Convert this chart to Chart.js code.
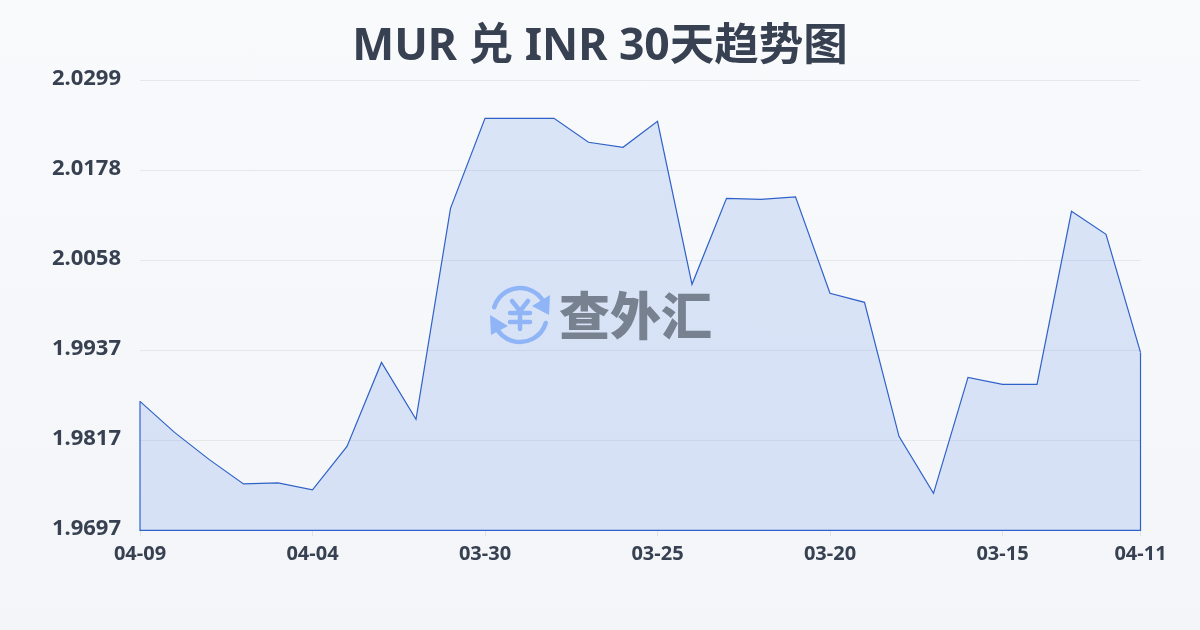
<!DOCTYPE html>
<html><head><meta charset="utf-8">
<style>
html,body{margin:0;padding:0;width:1200px;height:630px;overflow:hidden;background:linear-gradient(180deg,#f9fafc 0%,#f3f5f8 100%);}
canvas{display:block;}
</style>
<script src="https://cdn.jsdelivr.net/npm/chart.js@4/dist/chart.umd.min.js"></script>
</head><body>
<canvas id="c" width="1200" height="630"></canvas>
<script>
const titleText = 'MUR 兑 INR 30天趋势图';
const watermarkText = '查外汇';
const categories = ['04-09','04-08','04-07','04-06','04-05','04-04','04-03','04-02','04-01','03-31','03-30','03-29','03-28','03-27','03-26','03-25','03-24','03-23','03-22','03-21','03-20','03-19','03-18','03-17','03-16','03-15','03-14','03-13','03-12','04-11'];
const rates = [1.98696,1.98281,1.97920,1.97592,1.97605,1.97512,1.98094,1.99217,1.98455,2.01278,2.02482,2.02482,2.02482,2.02161,2.02094,2.02442,2.00261,2.01411,2.01398,2.01432,2.00141,2.00020,1.98228,1.97465,1.99017,1.98923,1.98923,2.01238,2.00930,1.99351];
const yTickLabels = ['2.0299','2.0178','2.0058','1.9937','1.9817','1.9697'];
const xTickIndexes = [0,5,10,15,20,25,29];
const yMin = 1.9697, yMax = 2.0299;
const ink = '#374151';
const lineColor = '#2f62c8';
const fontStack = '"Noto Sans","Noto Sans CJK SC"';

const watermark = {
  id:'watermark',
  afterDatasetsDraw(chart){
    const {ctx} = chart;
    ctx.save();
    const cx=520, cy=315, r=27;
    ctx.strokeStyle='#8fb5f7'; ctx.fillStyle='#8fb5f7';
    ctx.lineWidth=4.5; ctx.lineCap='round'; ctx.lineJoin='round';
    ctx.beginPath(); ctx.arc(cx,cy,r,-2.85,-0.45); ctx.stroke();
    ctx.beginPath(); ctx.arc(cx,cy,r,0.3,2.7); ctx.stroke();
    ctx.beginPath(); ctx.moveTo(550,295); ctx.lineTo(549,315); ctx.lineTo(532,306); ctx.closePath(); ctx.fill();
    ctx.beginPath(); ctx.moveTo(490,315); ctx.lineTo(491,335); ctx.lineTo(508,326); ctx.closePath(); ctx.fill();
    ctx.lineWidth=4.5;
    ctx.beginPath();
    ctx.moveTo(512,301); ctx.lineTo(520,311); ctx.lineTo(528,301);
    ctx.moveTo(510,313); ctx.lineTo(530,313);
    ctx.moveTo(510,322); ctx.lineTo(530,322);
    ctx.moveTo(520,311); ctx.lineTo(520,329);
    ctx.stroke();
    ctx.fillStyle='#78818f';
    ctx.font='900 51px "Noto Sans CJK SC"';
    ctx.textAlign='left'; ctx.textBaseline='middle';
    ctx.fillText(watermarkText,559,316);
    ctx.restore();
  }
};

new Chart(document.getElementById('c'),{
  type:'line',
  data:{labels:categories,datasets:[
    {data:rates,borderColor:lineColor,borderWidth:1.2,backgroundColor:'rgba(47,105,225,0.15)',fill:'origin',pointRadius:0,tension:0,clip:false},
    {data:[{x:categories[0],y:rates[0]},{x:categories[0],y:yMin},{x:categories[categories.length-1],y:yMin},{x:categories[categories.length-1],y:rates[rates.length-1]}],borderColor:lineColor,borderWidth:1.2,fill:false,pointRadius:0,tension:0,clip:false}
  ]},
  options:{
    responsive:false,animation:false,
    layout:{padding:0},
    plugins:{
      legend:{display:false},tooltip:{enabled:false},
      title:{display:true,text:titleText,color:ink,font:{family:fontStack,size:44.5,weight:'700',lineHeight:1.2},padding:{top:21,bottom:5.9}}
    },
    scales:{
      x:{
        type:'category',offset:false,
        afterFit(s){s.height=99.6;},
        afterBuildTicks(s){s.ticks=xTickIndexes.map(i=>({value:i,label:categories[i]}));},
        grid:{drawOnChartArea:false,drawTicks:true,tickLength:6,color:'#dfe2e7'},
        border:{display:false},
        ticks:{autoSkip:false,maxRotation:0,padding:6,color:ink,font:{family:fontStack,size:20,weight:'700'},callback(v,i){return categories[xTickIndexes[i]];}}
      },
      y:{
        min:yMin,max:yMax,
        afterFit(s){s.width=140;},
        afterBuildTicks(s){s.ticks=yTickLabels.map((t,i)=>({value:yMax-(yMax-yMin)*i/(yTickLabels.length-1)}));},
        grid:{drawTicks:false,color:'#e5e7eb',lineWidth:1},
        border:{display:false},
        ticks:{padding:19,labelOffset:-1.5,color:ink,font:{family:fontStack,size:22,weight:'700'},callback(v,i){return yTickLabels[i];}}
      },
      rightGutter:{
        position:'right',
        afterFit(s){s.width=59.5;},
        grid:{display:false},border:{display:false},
        ticks:{display:false}
      }
    }
  },
  plugins:[watermark]
});
</script>
</body></html>
